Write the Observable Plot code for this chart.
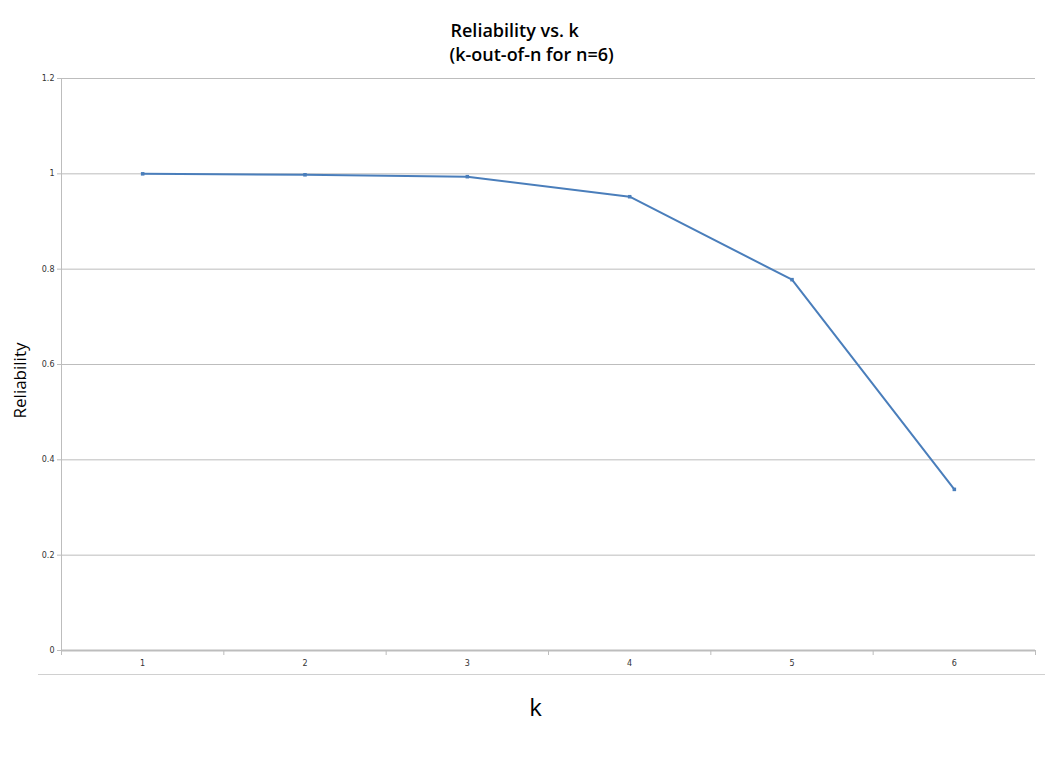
<!DOCTYPE html>
<html>
<head>
<meta charset="utf-8">
<script src="https://cdn.jsdelivr.net/npm/d3@7"></script>
<script src="https://cdn.jsdelivr.net/npm/@observablehq/plot@0.6"></script>
<style>
  html, body { margin: 0; padding: 0; background: #fff; }
  #chart svg { display: block; }
</style>
</head>
<body>
<div id="chart"></div>
<script>
const kValues = [1, 2, 3, 4, 5, 6];
const reliability = [1.0, 0.998, 0.994, 0.952, 0.778, 0.338];
const yTicks = [0, 0.2, 0.4, 0.6, 0.8, 1.0, 1.2];
const xBoundaries = [0.5, 1.5, 2.5, 3.5, 4.5, 5.5, 6.5];
const titleLines = ["Reliability vs. k", "(k-out-of-n for n=6)"];

const data = kValues.map((k, i) => ({k, r: reliability[i]}));
const fmt = d => String(+d.toFixed(1));
const gray = "#bdbdbd";
const blue = "#4a7ebb";

const chart = Plot.plot({
  width: 1050,
  height: 784,
  marginTop: 78,
  marginBottom: 134,
  marginLeft: 61,
  marginRight: 15,
  style: {fontFamily: "DejaVu Sans, sans-serif", background: "#fff"},
  x: {type: "linear", domain: [0.5, 6.5]},
  y: {type: "linear", domain: [0, 1.2]},
  marks: [
    Plot.ruleY(yTicks.filter(d => d > 0), {stroke: gray, strokeWidth: 1}),
    Plot.ruleX([0.5], {stroke: gray, strokeWidth: 1}),
    Plot.ruleY([0], {stroke: gray, strokeWidth: 2}),
    Plot.ruleY([0], {stroke: "#d0d0d0", strokeWidth: 1, dy: 24, insetLeft: -23, insetRight: -10}),
    Plot.axisY({ticks: yTicks, tickFormat: fmt, tickSize: 4, tickPadding: 3, stroke: gray, fontSize: 8, color: "#333", label: null}),
    Plot.axisX({ticks: xBoundaries, tickFormat: () => "", tickSize: 5, stroke: gray, label: null}),
    Plot.axisX({ticks: kValues, tickFormat: d => String(d), tickSize: 0, tickPadding: 10, fontSize: 8, color: "#333", label: null}),
    Plot.line(data, {x: "k", y: "r", stroke: blue, strokeWidth: 2}),
    Plot.dot(data, {x: "k", y: "r", symbol: "square", r: 2, fill: blue, stroke: null}),
    Plot.text([titleLines[0]], {frameAnchor: "top-left", textAnchor: "start", dx: 389, dy: -54, text: d => d, fontSize: 18, fontWeight: 600, fill: "#000", fontFamily: "Open Sans, sans-serif"}),
    Plot.text([titleLines[1]], {frameAnchor: "top-left", textAnchor: "start", dx: 388, dy: -30, text: d => d, fontSize: 18, fontWeight: 600, fill: "#000", fontFamily: "Open Sans, sans-serif"}),
    Plot.text(["Reliability"], {frameAnchor: "left", textAnchor: "middle", dx: -41, dy: 16, rotate: -90, text: d => d, fontSize: 17, fill: "#000", fontFamily: "Open Sans, sans-serif"}),
    Plot.text(["k"], {frameAnchor: "bottom", dy: 65, dx: -13, text: d => d, fontSize: 24, fill: "#000", fontFamily: "Open Sans, sans-serif"})
  ]
});
document.getElementById("chart").appendChild(chart);
</script>
</body>
</html>
